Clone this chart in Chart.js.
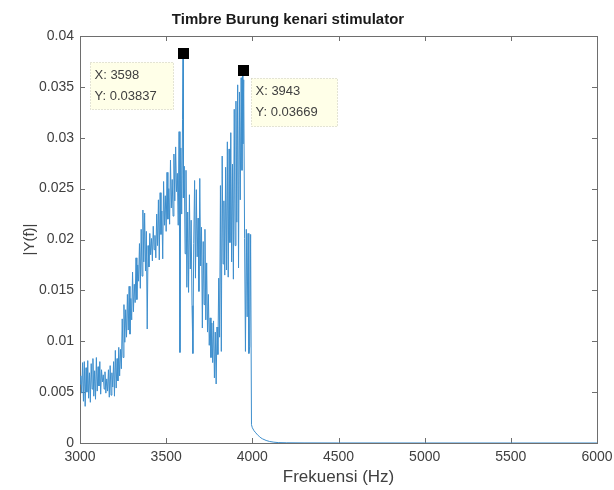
<!DOCTYPE html>
<html>
<head>
<meta charset="utf-8">
<script src="https://cdn.jsdelivr.net/npm/chart.js@4.4.0/dist/chart.umd.min.js"></script>
<style>
html,body{margin:0;padding:0;background:#fff;}
#wrap{width:614px;height:490px;position:relative;}
</style>
</head>
<body>
<div id="wrap"><canvas id="c" width="614" height="490"></canvas></div>
<script>
const chartTitle = "Timbre Burung kenari stimulator";
const xLabel = "Frekuensi (Hz)";
const yLabel = "|Y(f)|";
const xTicks = [3000, 3500, 4000, 4500, 5000, 5500, 6000];
const yTicks = [0, 0.005, 0.01, 0.015, 0.02, 0.025, 0.03, 0.035, 0.04];

const freq = [
3000,3005,3010,3015,3020,3025,3030,3035,3040,3045,3050,3055,3060,3065,3070,3075,3080,3085,3090,3095,
3100,3105,3110,3115,3120,3125,3130,3135,3140,3145,3150,3155,3160,3165,3170,3175,3180,3185,3190,3195,
3200,3205,3210,3215,3220,3225,3230,3235,3240,3245,3250,3255,3260,3265,3270,3275,3280,3285,3290,3295,
3300,3305,3310,3315,3320,3325,3330,3335,3340,3345,3350,3355,3360,3365,3370,3375,3380,3385,3390,3395,
3400,3405,3410,3415,3420,3425,3430,3435,3440,3445,3450,3455,3460,3465,3470,3475,3480,3485,3490,3495,
3500,3505,3510,3515,3520,3525,3530,3535,3540,3545,3550,3555,3560,3565,3570,3575,3580,3585,3590,3595,
3598,3600,3605,3610,3615,3620,3625,3630,3635,3640,3645,3650,3655,3660,3665,3670,3675,3680,3685,3690,3695,
3700,3705,3710,3715,3720,3725,3730,3735,3740,3745,3750,3755,3760,3765,3770,3775,3780,3785,3790,3795,
3800,3805,3810,3815,3820,3825,3830,3835,3840,3845,3850,3855,3860,3865,3870,3875,3880,3885,3890,3895,
3900,3905,3910,3915,3920,3925,3930,3935,3940,3943,3945,3950,3955,3960,3965,3970,3975,3980,3985,3990,3995,
4000,4010,4020,4030,4040,4050,4060,4080,4100,4125,4150,4200,4300,4500,5000,5500,6000
];
const magnitude = [
0.0058,0.0066,0.0049,0.0079,0.0041,0.0080,0.0036,0.0074,0.0050,0.0081,0.0044,0.0069,0.0040,0.0078,0.0053,0.0083,0.0046,0.0071,0.0043,0.0084,
0.0051,0.0075,0.0056,0.0080,0.0048,0.0072,0.0060,0.0067,0.0053,0.0070,0.0049,0.0063,0.0051,0.0072,0.0045,0.0076,0.0047,0.0069,0.0055,0.0080,
0.0046,0.0091,0.0054,0.0083,0.0061,0.0094,0.0066,0.0092,0.0073,0.0122,0.0084,0.0136,0.0099,0.0131,0.0104,0.0146,0.0111,0.0154,0.0107,0.0142,
0.0121,0.0168,0.0129,0.0156,0.0138,0.0182,0.0141,0.0175,0.0159,0.0196,0.0152,0.0210,0.0164,0.0229,0.0178,0.0226,0.0169,0.0208,0.0112,0.0194,
0.0173,0.0206,0.0185,0.0201,0.0179,0.0213,0.0190,0.0204,0.0182,0.0225,0.0194,0.0239,0.0180,0.0246,0.0205,0.0228,0.0181,0.0257,0.0214,0.0243,
0.0208,0.0266,0.0220,0.0250,0.0215,0.0278,0.0231,0.0259,0.0223,0.0284,0.0238,0.0291,0.0247,0.0265,0.0214,0.0306,0.0089,0.0290,0.0225,0.0318,
0.03837,0.0241,0.0272,0.0186,0.0268,0.0153,0.0227,0.0148,0.0244,0.0171,0.0219,0.0135,0.0088,0.0196,0.0258,0.0162,0.0249,0.0183,0.0221,0.0149,0.0260,
0.0174,0.0212,0.0113,0.0198,0.0136,0.0210,0.0121,0.0177,0.0109,0.0146,0.0096,0.0123,0.0084,0.0118,0.0079,0.0120,0.0064,0.0109,0.0058,0.0114,
0.0087,0.0162,0.0104,0.0253,0.0090,0.0282,0.0176,0.0238,0.0165,0.0271,0.0170,0.0296,0.0163,0.0289,0.0197,0.0305,0.0178,0.0274,0.0161,0.0328,
0.0194,0.0336,0.0217,0.0352,0.0172,0.0345,0.0239,0.0359,0.0268,0.03669,0.0294,0.0357,0.0201,0.0090,0.0210,0.0124,0.0206,0.0088,0.0095,0.0205,0.0018,
0.0015,0.0012,0.0010,0.0008,0.00065,0.0005,0.0004,0.00025,0.00015,0.00008,0.00004,0.00002,0.00001,0.000005,0.000002,0.0000015,0.000001
];

const tipX = [3598, 3943];
const tipY = [0.03837, 0.03669];

const FONT = "'Liberation Sans', Arial, Helvetica, sans-serif";
const TEXT = '#404040';
const AXIS = '#6e6e6e';

const series = freq.map((f, i) => ({x: f, y: magnitude[i]}));

const frame = {
  id: 'frame',
  beforeDatasetsDraw(chart) {
    const {ctx, chartArea: a, scales: {x, y}} = chart;
    ctx.save();
    ctx.strokeStyle = AXIS;
    ctx.lineWidth = 1;
    ctx.strokeRect(Math.round(a.left) + 0.5, Math.round(a.top) + 0.5, Math.round(a.right - a.left), Math.round(a.bottom - a.top));
    ctx.beginPath();
    const tl = 5;
    xTicks.forEach(v => {
      const px = Math.round(x.getPixelForValue(v)) + 0.5;
      ctx.moveTo(px, a.bottom); ctx.lineTo(px, a.bottom - tl);
      ctx.moveTo(px, a.top); ctx.lineTo(px, a.top + tl);
    });
    yTicks.forEach(v => {
      const py = Math.round(y.getPixelForValue(v)) + 0.5;
      ctx.moveTo(a.left, py); ctx.lineTo(a.left + tl, py);
      ctx.moveTo(a.right, py); ctx.lineTo(a.right - tl, py);
    });
    ctx.stroke();
    ctx.restore();
  },
  afterDraw(chart) {
    const {ctx, chartArea: a, scales: {x, y}} = chart;
    ctx.save();
    ctx.fillStyle = '#1a1a1a';
    ctx.font = "bold 15px " + FONT;
    ctx.textAlign = 'center';
    ctx.textBaseline = 'middle';
    ctx.fillText(chartTitle, 288, 20);
    const boxes = [
      {dx: -93, dy: 9, w: 83, h: 47},
      {dx: 8, dy: 8, w: 86, h: 48}
    ];
    tipX.forEach((f, i) => {
      const px = x.getPixelForValue(f), py = y.getPixelForValue(tipY[i]);
      const b = boxes[i];
      const bx = Math.round(px + b.dx) + 0.5, by = Math.round(py + b.dy) + 0.5;
      ctx.fillStyle = 'rgba(255,255,230,0.92)';
      ctx.fillRect(bx, by, b.w, b.h);
      ctx.setLineDash([1, 2]);
      ctx.strokeStyle = '#c8c8b4';
      ctx.strokeRect(bx, by, b.w, b.h);
      ctx.setLineDash([]);
      ctx.fillStyle = TEXT;
      ctx.font = "13px " + FONT;
      ctx.textAlign = 'left';
      ctx.textBaseline = 'middle';
      ctx.fillText('X: ' + f, bx + 4, by + 13);
      ctx.fillText('Y: ' + tipY[i].toFixed(5), bx + 4, by + 34);
      ctx.fillStyle = '#000';
      ctx.fillRect(Math.round(px) - 5, Math.round(py) - 5, 11, 11);
    });
    ctx.restore();
  }
};

new Chart(document.getElementById('c'), {
  type: 'line',
  data: {
    datasets: [{
      data: series,
      borderColor: '#3d8ecd',
      borderWidth: 1,
      pointRadius: 0,
      fill: false,
      tension: 0
    }]
  },
  options: {
    responsive: false,
    animation: false,
    events: [],
    layout: {padding: {top: 36, right: 17, left: 0, bottom: 0}},
    plugins: {legend: {display: false}, tooltip: {enabled: false}, title: {display: false}},
    scales: {
      x: {
        type: 'linear', min: 3000, max: 6000,
        afterBuildTicks: s => { s.ticks = xTicks.map(v => ({value: v})); },
        afterFit: s => { s.height = 47; s.paddingLeft = 0; s.paddingRight = 0; },
        grid: {display: false, drawTicks: false},
        border: {display: false},
        ticks: {padding: 6, color: TEXT, font: {family: FONT, size: 14}, maxRotation: 0, callback: v => String(v)},
        title: {display: true, text: xLabel, color: TEXT, font: {family: FONT, size: 17}, padding: {top: 0, bottom: 2}}
      },
      y: {
        type: 'linear', min: 0, max: 0.04,
        afterBuildTicks: s => { s.ticks = yTicks.map(v => ({value: v})); },
        afterFit: s => { s.width = 80; s.paddingTop = 0; s.paddingBottom = 0; },
        grid: {display: false, drawTicks: false},
        border: {display: false},
        ticks: {padding: 6, color: TEXT, font: {family: FONT, size: 14}, callback: v => String(+v.toFixed(3))},
        title: {display: true, text: yLabel, color: TEXT, font: {family: FONT, size: 15}, padding: {top: 21, bottom: 0}}
      }
    }
  },
  plugins: [frame]
});
</script>
</body>
</html>
